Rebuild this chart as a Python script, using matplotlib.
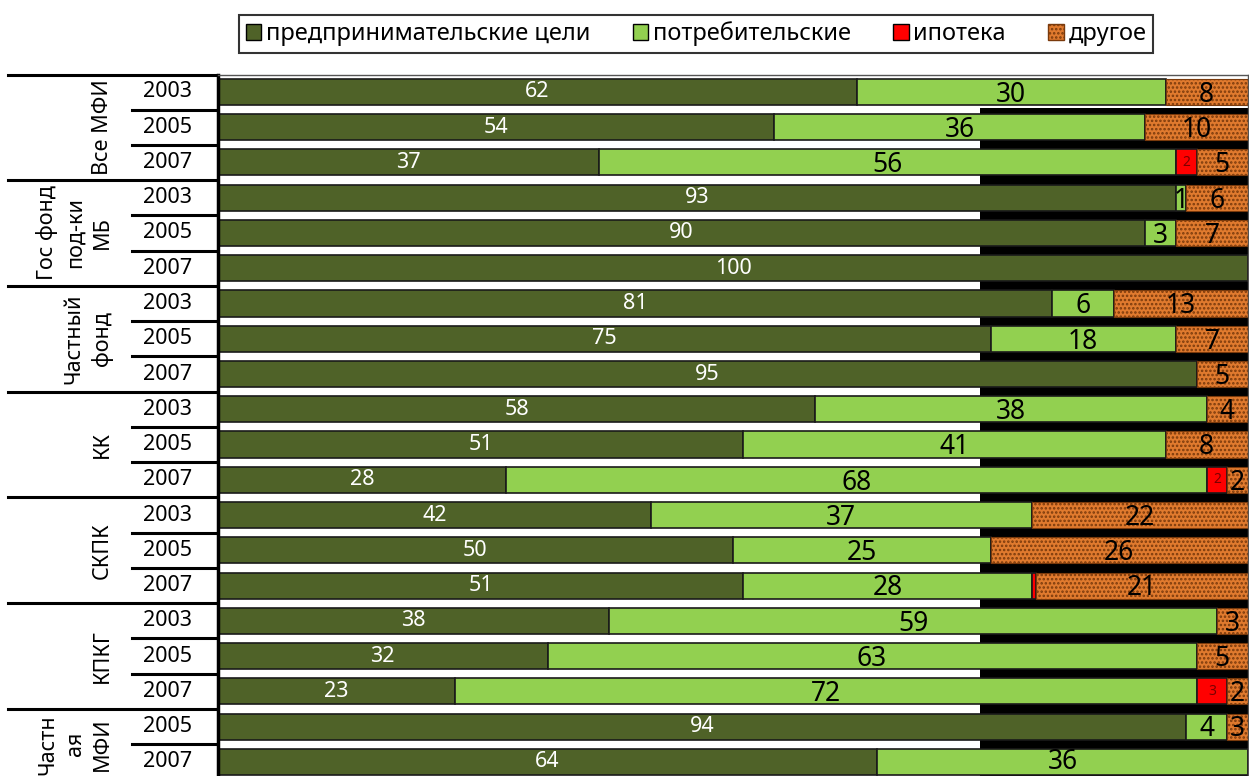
import matplotlib
matplotlib.use("Agg")
import matplotlib.pyplot as plt
import matplotlib.transforms as mtransforms
from matplotlib.patches import Rectangle, Patch
import numpy as np

plt.rcParams['font.family'] = ['Noto Sans', 'DejaVu Sans']
plt.rcParams['hatch.linewidth'] = 1.2

groups = ["Все МФИ", "Гос фонд\nпод-ки\nМБ", "Частный\nфонд", "КК", "СКПК", "КПКГ", "Частн\nая\nМФИ"]
group_sizes = [3, 3, 3, 3, 3, 3, 2]
years = ["2003", "2005", "2007", "2003", "2005", "2007", "2003", "2005", "2007",
         "2003", "2005", "2007", "2003", "2005", "2007", "2003", "2005", "2007",
         "2005", "2007"]
series_names = ["предпринимательские цели", "потребительские", "ипотека", "другое"]
business = [62, 54, 37, 93, 90, 100, 81, 75, 95, 58, 51, 28, 42, 50, 51, 38, 32, 23, 94, 64]
consumer = [30, 36, 56, 1, 3, 0, 6, 18, 0, 38, 41, 68, 37, 25, 28, 59, 63, 72, 4, 36]
mortgage = [0, 0, 2, 0, 0, 0, 0, 0, 0, 0, 0, 2, 0, 0, 0.4, 0, 0, 3, 0, 0.4]
other = [8, 10, 5, 6, 7, 0, 13, 7, 5, 4, 8, 2, 22, 26, 21, 3, 5, 2, 3, 0]

colors = ["#4F6228", "#92D050", "#FF0000", "#E07A2E"]
label_colors = ["white", "black", "#7a0000", "black"]
label_sizes = [15.5, 19, 10, 19]

W, H = 1249, 776
fig = plt.figure(figsize=(W / 100, H / 100), dpi=100)
ax = fig.add_axes([218 / W, 0, (1248 - 218) / W, 1 - 75 / H])

n = len(years)
y = np.arange(n)
ax.set_xlim(0, 100)
ax.set_ylim(19.40, -0.48)

# dark band behind the right part of the plot area (as in reference)
ax.add_patch(Rectangle((74, 0.45), 26, 19.0, facecolor="black", edgecolor="none", zorder=0))

left = np.zeros(n)
data = [business, consumer, mortgage, other]
for i, vals in enumerate(data):
    vals = np.array(vals, dtype=float)
    if i == 3:
        ax.barh(y, vals, left=left, height=0.74, color=colors[i],
                edgecolor="#7a3a0c", hatch="....", linewidth=0.8, zorder=2)
    else:
        ax.barh(y, vals, left=left, height=0.74, color=colors[i],
                edgecolor="#1a1a1a", linewidth=1.2, zorder=2)
    for j, v in enumerate(vals):
        if v >= 1:
            cx = (left[j] + min(left[j] + v, 100)) / 2
            dy = 0.08 if (i in (1, 3) and j < n - 1) else 0.0
            ax.text(cx, y[j] + dy, f"{v:g}", ha="center", va="center",
                    color=label_colors[i], fontsize=label_sizes[i], zorder=4,
                    clip_on=False)
    left += vals

ax.spines["bottom"].set_visible(False)
ax.spines["left"].set_linewidth(2.5)
ax.spines["left"].set_color("black")
ax.spines["top"].set_linewidth(1.0)
ax.spines["top"].set_color("#555555")
ax.spines["right"].set_linewidth(1.0)
ax.spines["right"].set_color("#555555")
ax.set_xticks([])
ax.set_yticks([])

# left table (years and groups)
trans = mtransforms.blended_transform_factory(fig.transFigure, ax.transData)
for j in range(n):
    ax.text(168 / W, y[j], years[j], transform=trans, ha="center", va="center",
            fontsize=15.5, clip_on=False)

start = 0
line_kw = dict(color="black", linewidth=2.2, clip_on=False, transform=trans)
ax.plot([8 / W, 216 / W], [-0.48, -0.48], **line_kw)
for g, size in zip(groups, group_sizes):
    for k in range(1, size):
        yy = start + k - 0.5
        ax.plot([132 / W, 216 / W], [yy, yy], **line_kw)
    end = start + size - 0.5
    if start + size < n:
        ax.plot([8 / W, 216 / W], [end, end], **line_kw)
    cy = (start - 0.5 + end) / 2
    ax.text(113 / W, cy, g, transform=trans, rotation=90, ha="right", va="center",
            multialignment="center", fontsize=15.5, linespacing=1.4, clip_on=False)
    start += size

handles = [Patch(facecolor=colors[0], edgecolor="black"),
           Patch(facecolor=colors[1], edgecolor="black"),
           Patch(facecolor=colors[2], edgecolor="black"),
           Patch(facecolor=colors[3], edgecolor="#7a3a0c", hatch="....")]
leg = fig.legend(handles, series_names, loc="center", bbox_to_anchor=(696 / W, 1 - 34 / H),
                 ncol=4, fontsize=17, frameon=True, fancybox=False, edgecolor="black",
                 handlelength=0.65, handleheight=0.65, handletextpad=0.2, columnspacing=1.8,
                 borderpad=0.3, borderaxespad=0)
leg.get_frame().set_linewidth(1.5)

fig.savefig("out.png", dpi=100)
